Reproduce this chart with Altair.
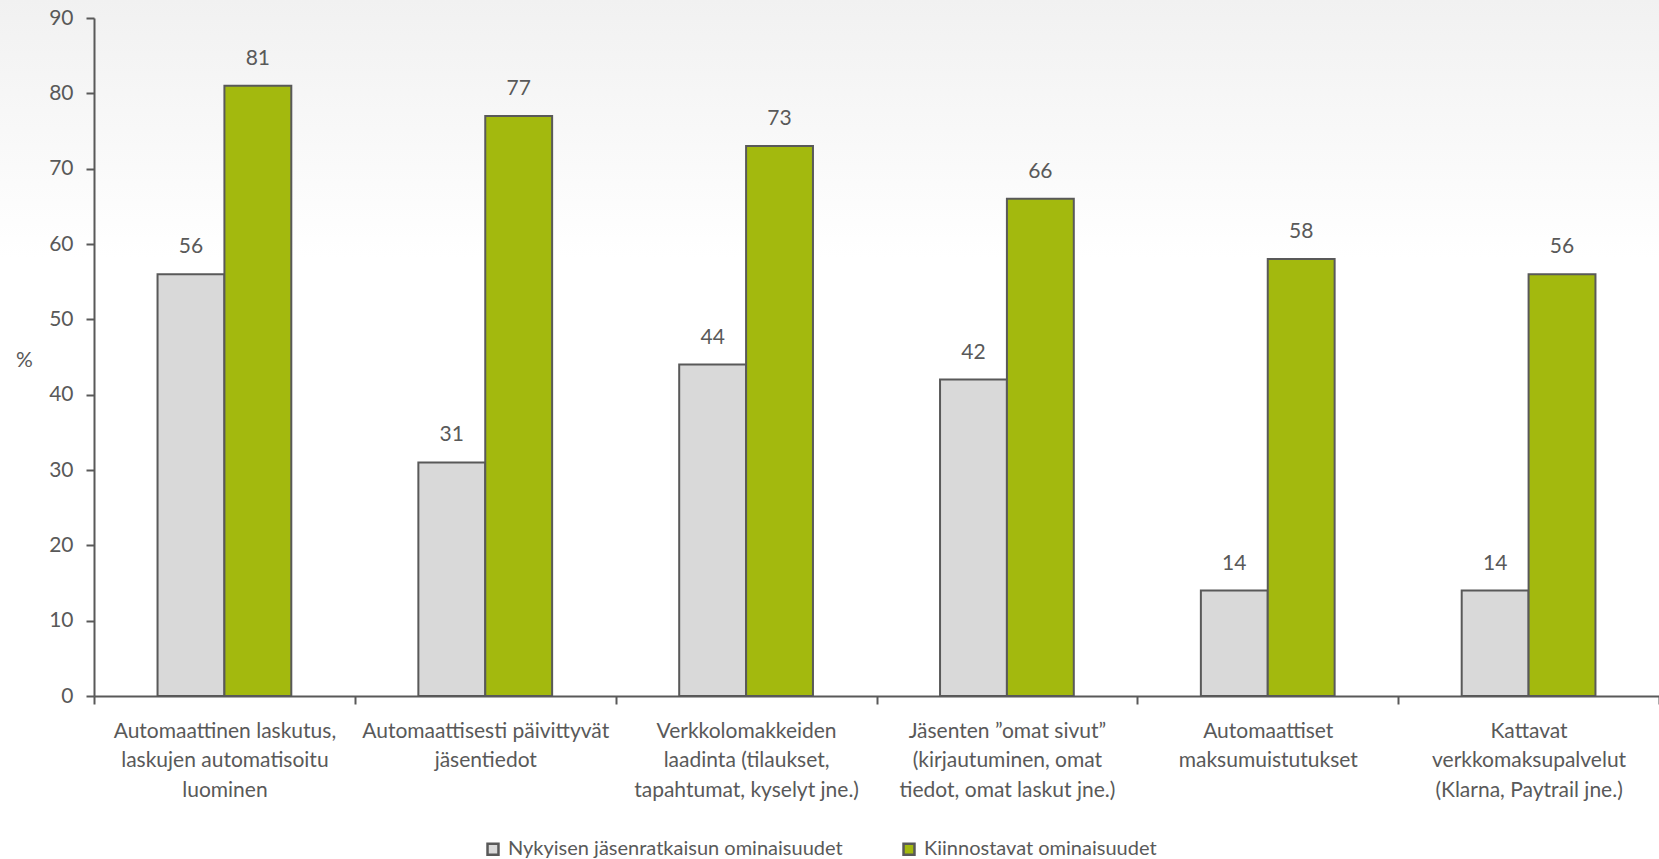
import altair as alt
import pandas as pd

categories = [
    "Automaattinen laskutus,|laskujen automatisoitu|luominen",
    "Automaattisesti päivittyvät|jäsentiedot",
    "Verkkolomakkeiden|laadinta (tilaukset,|tapahtumat, kyselyt jne.)",
    "Jäsenten \u201domat sivut\u201d|(kirjautuminen, omat|tiedot, omat laskut jne.)",
    "Automaattiset|maksumuistutukset",
    "Kattavat|verkkomaksupalvelut|(Klarna, Paytrail jne.)",
]
series = ["Nykyisen jäsenratkaisun  ominaisuudet", "Kiinnostavat ominaisuudet"]
current_values = [56, 31, 44, 42, 14, 14]
interest_values = [81, 77, 73, 66, 58, 56]
colors = ["#d9d9d9", "#a3b90e"]

rows = []
for c, a, b in zip(categories, current_values, interest_values):
    rows.append({"cat": c, "series": series[0], "value": a})
    rows.append({"cat": c, "series": series[1], "value": b})
df = pd.DataFrame(rows)

FONT = "Lato"
GREY = "#595959"
W, H = 1565, 678

x_enc = alt.X("cat:N", sort=categories, title=None,
              scale=alt.Scale(paddingInner=0, paddingOuter=0),
              axis=alt.Axis(labelExpr="split(datum.label, '|')", labelAngle=0,
                            tickBand="extent", labelFontSize=21, labelFont=FONT,
                            labelColor=GREY, labelLineHeight=29.5, labelPadding=16,
                            labelBaseline="top", zindex=2,
                            domainColor=GREY, domainWidth=2, tickColor=GREY,
                            tickWidth=2, tickSize=8, labelLimit=400))
xo_enc = alt.XOffset("series:N", sort=series,
                     scale=alt.Scale(paddingInner=0, paddingOuter=0.95))
y_enc = alt.Y("value:Q", scale=alt.Scale(domain=[0, 90], nice=False),
              axis=alt.Axis(values=list(range(0, 91, 10)), title="%", titleAngle=0,
                            titleX=-70, titleY=342, titleAlign="center",
                            titleBaseline="middle", titleFont=FONT, titleFontSize=21,
                            titleFontWeight="normal", titleColor=GREY, zindex=2,
                            labelFont=FONT, labelFontSize=21, labelColor=GREY,
                            labelPadding=13, domainColor=GREY, domainWidth=2,
                            tickColor=GREY, tickWidth=2, tickSize=8, grid=False))

bg = alt.Chart(pd.DataFrame({"k": [0]})).mark_rect(
    fill=alt.Gradient(gradient="linear", x1=0, y1=0, x2=0, y2=1,
                      stops=[alt.GradientStop(offset=0, color="#f1f1f1"),
                             alt.GradientStop(offset=1, color="#ffffff")]),
    clip=False,
).encode(x=alt.value(-94), x2=alt.value(W), y=alt.value(-18), y2=alt.value(240))

bars = alt.Chart(df).mark_bar(stroke=GREY, strokeWidth=2).encode(
    x=x_enc, xOffset=xo_enc, y=y_enc,
    color=alt.Color("series:N", sort=series,
                    scale=alt.Scale(domain=series, range=colors),
                    legend=alt.Legend(title=None, orient="none", direction="horizontal",
                                      legendX=389, legendY=821, symbolType="square",
                                      symbolSize=120, symbolStrokeColor=GREY,
                                      symbolStrokeWidth=2.5, labelFont=FONT,
                                      labelFontSize=20, labelColor=GREY,
                                      columnPadding=50, labelOffset=5, labelLimit=500)),
)

labels = alt.Chart(df).mark_text(dy=-27, baseline="middle", font=FONT, fontSize=21,
                                 color=GREY).encode(
    x=alt.X("cat:N", sort=categories), xOffset=alt.XOffset("series:N", sort=series),
    y="value:Q", text="value:Q",
)

chart = alt.layer(bg, bars, labels).properties(
    width=W, height=H,
    autosize=alt.AutoSizeParams(type="none"),
    padding={"left": 94, "top": 18, "right": 0, "bottom": 163},
).configure_view(stroke=None).configure(background="#ffffff")

chart.save("out.html", embed_options={"renderer": "svg", "actions": False})
